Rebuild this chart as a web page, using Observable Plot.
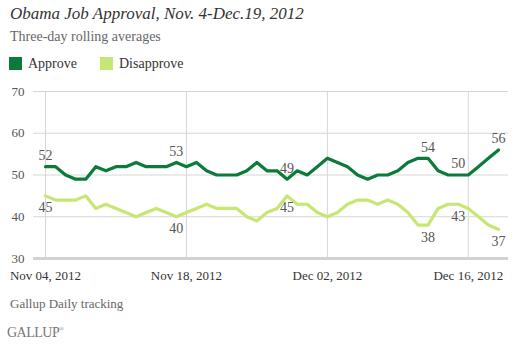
<!DOCTYPE html>
<html>
<head>
<meta charset="utf-8">
<script src="https://cdn.jsdelivr.net/npm/d3@7"></script>
<script src="https://cdn.jsdelivr.net/npm/@observablehq/plot@0.6"></script>
<style>
  body { margin: 0; background: #fff; }
  #wrap { position: relative; width: 514px; height: 354px; font-family: "Liberation Serif", "DejaVu Serif", serif; overflow: hidden; }
  .abs { position: absolute; white-space: nowrap; }
  .title { left: 10px; top: 4px; font-size: 17px; font-style: italic; color: #333; }
  .sub { left: 10px; top: 29px; font-size: 14px; color: #666; }
  .leg { top: 56px; font-size: 14px; color: #333; }
  .sw { display: inline-block; width: 13px; height: 13px; vertical-align: -2px; margin-right: 6px; }
  .cap { left: 10px; top: 296px; font-size: 13px; color: #666; }
  .logo { left: 7px; top: 325px; font-size: 14px; color: #777; letter-spacing: -0.5px; }
  #chart { position: absolute; left: 0; top: 80px; }
  #chart svg, #chart svg text { font-family: "Liberation Serif", "DejaVu Serif", serif !important; }
</style>
</head>
<body>
<div id="wrap">
  <div class="abs title">Obama Job Approval, Nov. 4-Dec.19, 2012</div>
  <div class="abs sub">Three-day rolling averages</div>
  <div class="abs leg" style="left:9px"><span class="sw" style="background:#0b7a3a"></span>Approve</div>
  <div class="abs leg" style="left:100px"><span class="sw" style="background:#c8e674"></span>Disapprove</div>
  <div id="chart"></div>
  <div class="abs cap">Gallup Daily tracking</div>
  <div class="abs logo">GALLUP<sup style="font-size:6px">®</sup></div>
</div>
<script>
// Daily dates, Nov 4 – Dec 19, 2012
const startDate = "2012-11-04";
const endDate = "2012-12-19";
const approve = [52,52,50,49,49,52,51,52,52,53,52,52,52,53,52,53,51,50,50,50,51,53,51,51,49,51,50,52,54,53,52,50,49,50,50,51,53,54,54,51,50,50,50,52,54,56];
const disapprove = [45,44,44,44,45,42,43,42,41,40,41,42,41,40,41,42,43,42,42,42,40,39,41,42,45,43,43,41,40,41,43,44,44,43,44,43,41,38,38,42,43,43,42,40,38,37];
const labelDates = ["2012-11-04","2012-11-17","2012-11-28","2012-12-12","2012-12-15","2012-12-19"];
const xTicks = ["2012-11-04","2012-11-18","2012-12-02","2012-12-16"];
const yTicks = [30,40,50,60,70];

const dates = d3.utcDay.range(new Date(startDate), d3.utcDay.offset(new Date(endDate), 1));
const rows = dates.map((d, i) => ({date: d, approve: approve[i], disapprove: disapprove[i]}));
const labelSet = new Set(labelDates.map(s => +new Date(s)));
const labelRows = rows.filter(r => labelSet.has(+r.date));
const tickDates = xTicks.map(s => new Date(s));

const font = "Liberation Serif";
const chart = Plot.plot({
  width: 514,
  height: 210,
  marginLeft: 33,
  marginRight: 6,
  marginTop: 11,
  marginBottom: 32,
  style: {fontFamily: font, fontSize: "13px", color: "#555", background: "transparent", overflow: "visible"},
  x: {type: "utc", domain: [dates[0], dates[dates.length - 1]], insetLeft: 12, insetRight: 10},
  y: {domain: [30, 70]},
  marks: [
    Plot.gridY(yTicks.slice(1), {stroke: "#d6d6d6", strokeOpacity: 1}),
    Plot.gridX(tickDates, {stroke: "#d6d6d6", strokeOpacity: 1}),
    Plot.ruleY([30], {stroke: "#d2d2d2", strokeWidth: 3}),
    Plot.axisY(yTicks, {tickSize: 0, tickPadding: 9, label: null, fill: "#555", fontFamily: font, fontSize: 13}),
    Plot.axisX(tickDates, {tickSize: 0, tickPadding: 12, label: null, tickFormat: d3.utcFormat("%b %d, %Y"), fill: "#333", fontFamily: font, fontSize: 13}),
    Plot.line(rows, {x: "date", y: "disapprove", stroke: "#c8e674", strokeWidth: 3.2}),
    Plot.line(rows, {x: "date", y: "approve", stroke: "#0b7a3a", strokeWidth: 3.2}),
    Plot.text(labelRows, {x: "date", y: "approve", text: d => String(d.approve), dy: -11, fill: "#555", fontSize: 14, fontFamily: font}),
    Plot.text(labelRows, {x: "date", y: "disapprove", text: d => String(d.disapprove), dy: 12, fill: "#555", fontSize: 14, fontFamily: font})
  ]
});
document.getElementById("chart").appendChild(chart);
</script>
</body>
</html>
